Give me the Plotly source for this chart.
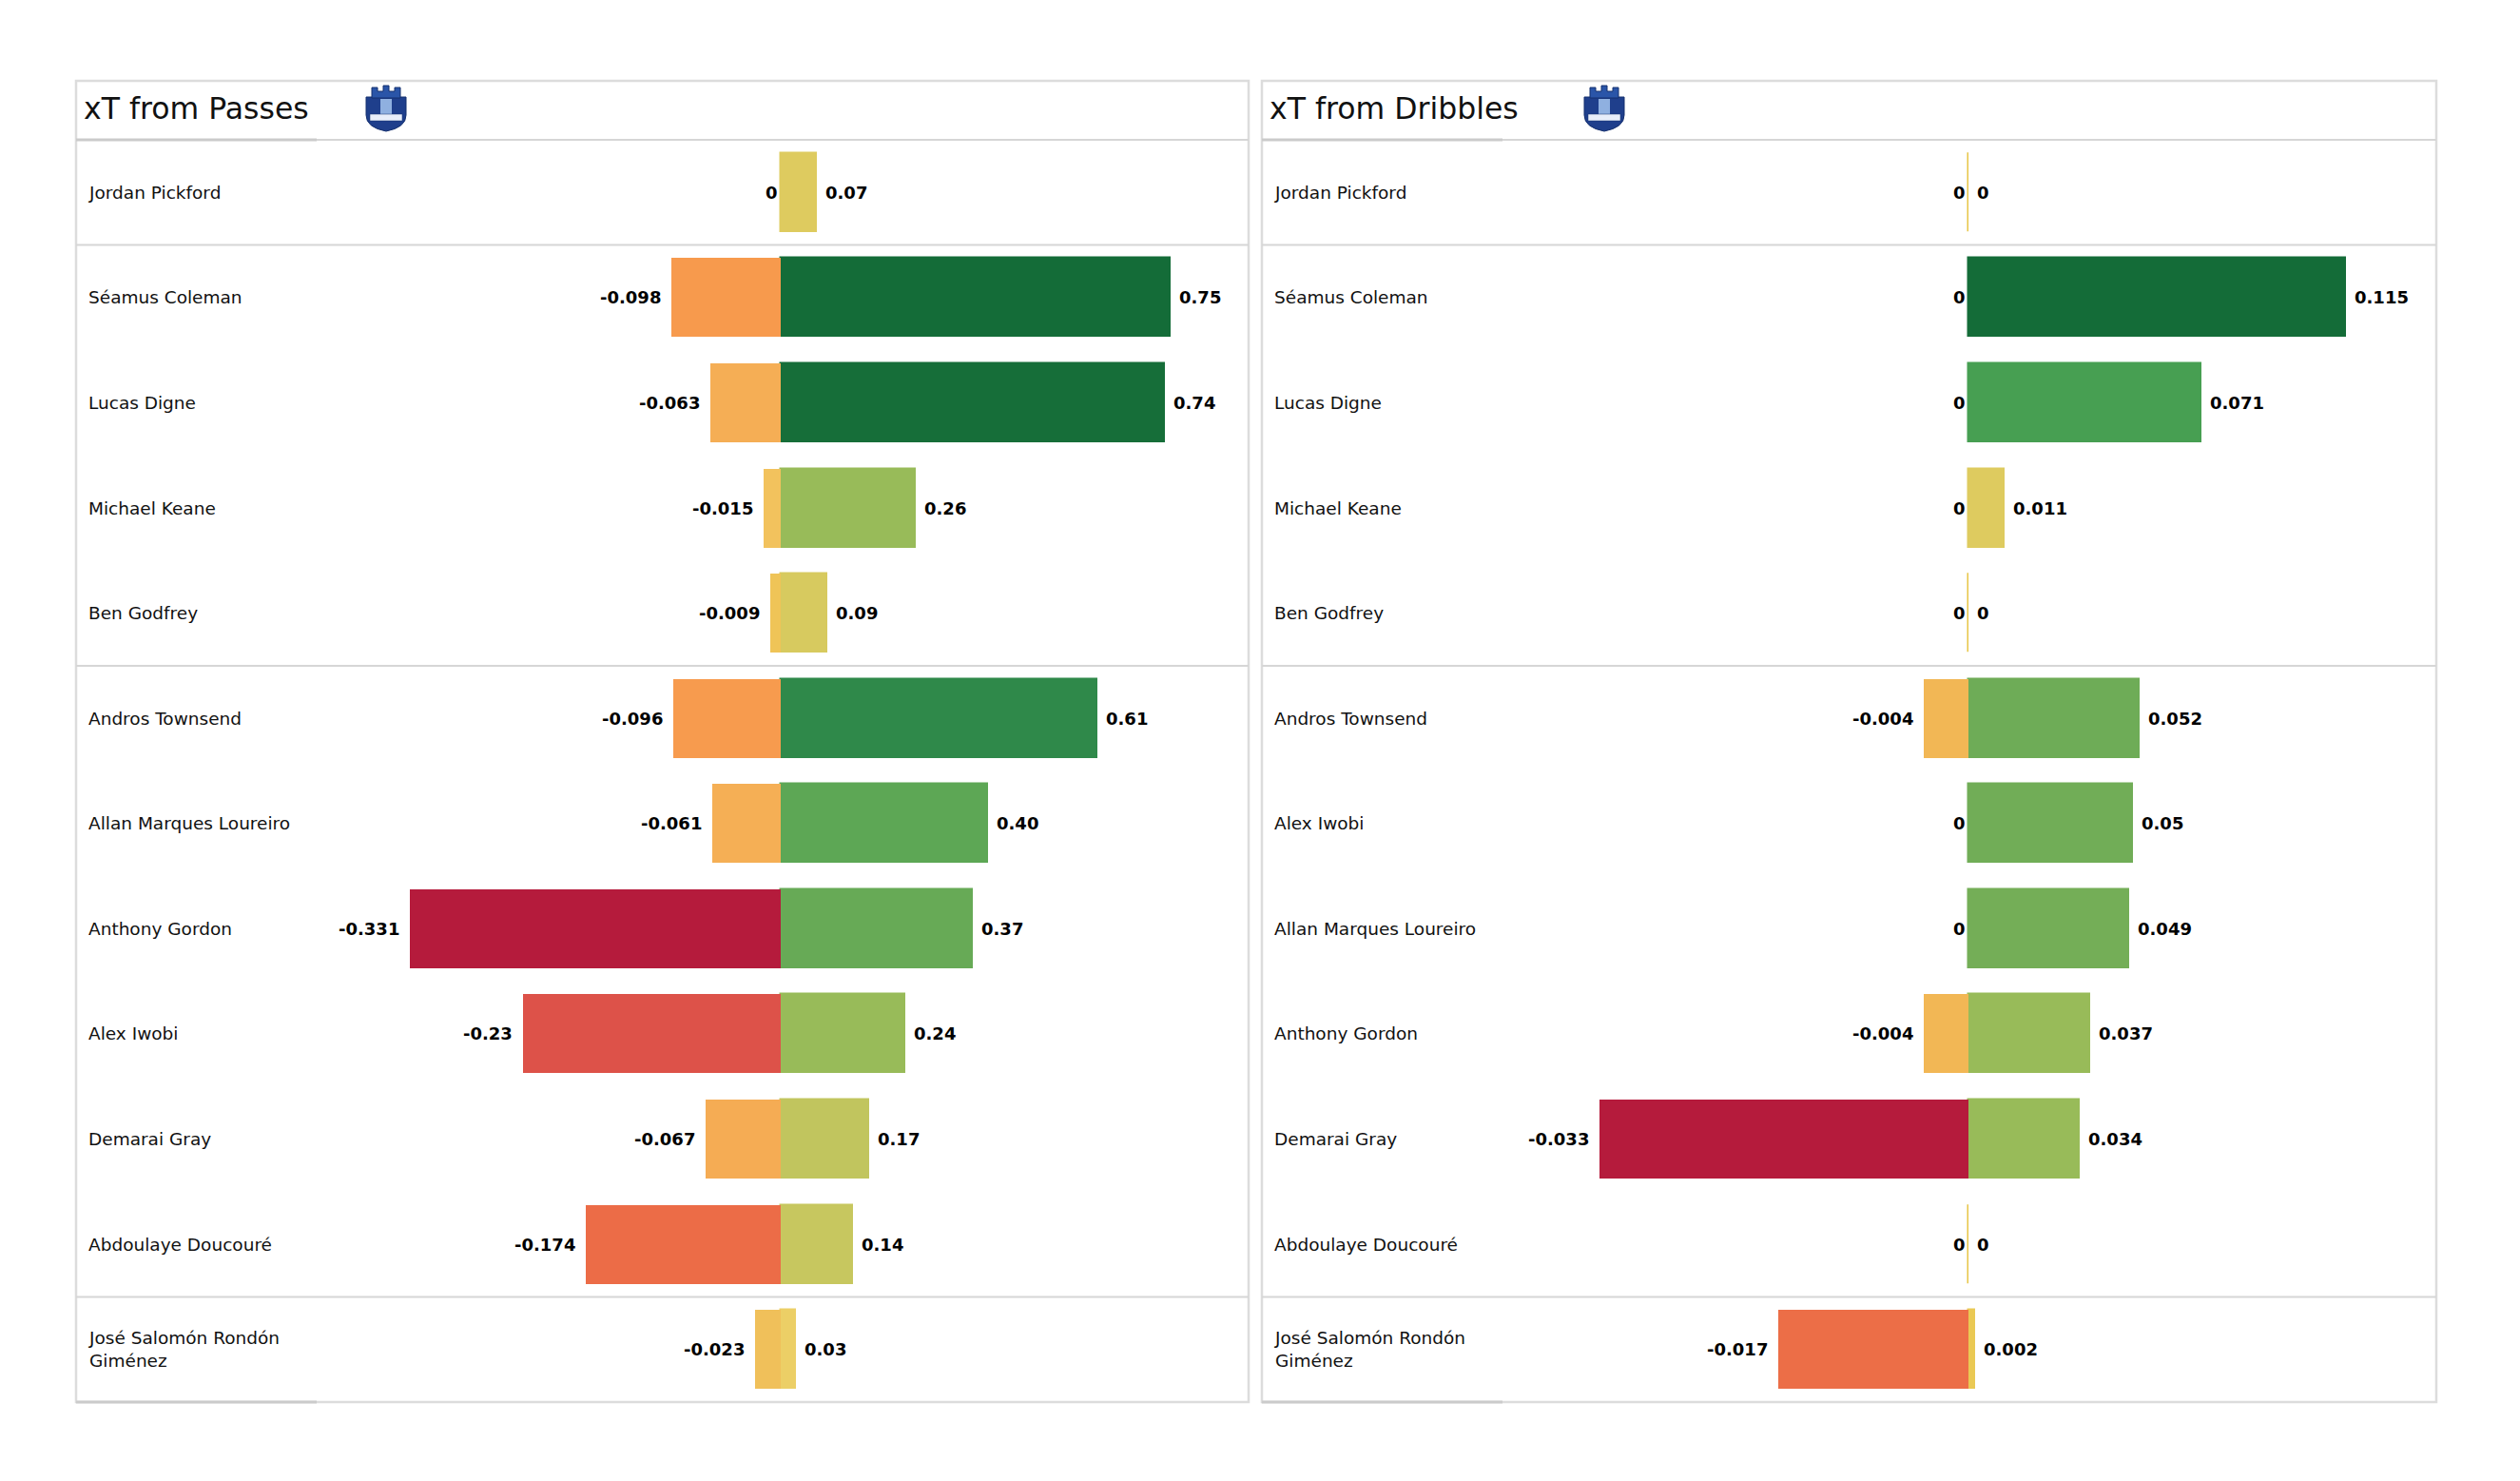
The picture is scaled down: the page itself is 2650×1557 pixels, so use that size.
import plotly.graph_objects as go
from plotly.colors import sample_colorscale

# ---------------- data ----------------
pass_players = ["Jordan Pickford", "Séamus Coleman", "Lucas Digne", "Michael Keane", "Ben Godfrey",
                "Andros Townsend", "Allan Marques Loureiro", "Anthony Gordon", "Alex Iwobi",
                "Demarai Gray", "Abdoulaye Doucouré", "José Salomón Rondón<br>Giménez"]
pass_neg = [0, -0.098, -0.063, -0.015, -0.009, -0.096, -0.061, -0.331, -0.23, -0.067, -0.174, -0.023]
pass_pos = [0.07, 0.75, 0.74, 0.26, 0.09, 0.61, 0.40, 0.37, 0.24, 0.17, 0.14, 0.03]

drib_players = ["Jordan Pickford", "Séamus Coleman", "Lucas Digne", "Michael Keane", "Ben Godfrey",
                "Andros Townsend", "Alex Iwobi", "Allan Marques Loureiro", "Anthony Gordon",
                "Demarai Gray", "Abdoulaye Doucouré", "José Salomón Rondón<br>Giménez"]
drib_neg = [0, 0, 0, 0, 0, -0.004, 0, 0, -0.004, -0.033, 0, -0.017]
drib_pos = [0, 0.115, 0.071, 0.011, 0, 0.052, 0.05, 0.049, 0.037, 0.034, 0, 0.002]

panel_titles = ["xT from Passes", "xT from Dribbles"]
group_breaks = [0.5, 4.5, 10.5]

# ---------------- layout constants ----------------
W, H = 2650, 1557
OFF = 8  # page body margin
TOP, HEAD, BOT = 85, 147, 1474
FONT = "DejaVu Sans"

COLORSCALE = [
    [0.0, "#b51b3c"], [0.155, "#de5349"], [0.24, "#ec6d47"], [0.35, "#f7994d"],
    [0.405, "#f5ae55"], [0.44, "#f2b755"], [0.465, "#f0c05a"], [0.48, "#f2c35e"],
    [0.5, "#e8c547"], [0.52, "#eccf66"], [0.545, "#dfcb5f"], [0.59, "#c8c75f"],
    [0.615, "#c1c55e"], [0.645, "#98bb59"], [0.675, "#98bb59"], [0.715, "#72ad57"],
    [0.745, "#68aa56"], [0.765, "#5ea755"], [0.81, "#469f52"], [0.905, "#2f8a4a"],
    [1.0, "#146c38"],
]

panels = [
    dict(players=pass_players, neg=pass_neg, pos=pass_pos, x0=80, x1=1313, zero=821,
         pos_px=409.5, neg_px=390, name_x=91, logo_x=406, pos_fmt="{:.2f}"),
    dict(players=drib_players, neg=drib_neg, pos=drib_pos, x0=1327, x1=2562, zero=2070,
         pos_px=397, neg_px=388, name_x=1338, logo_x=1687, pos_fmt=None),
]


def px(x):
    return (x - OFF) / W


def py(y):
    return 1 - (y - OFF) / H


def fmt(v, f=None):
    if v == 0:
        return "0"
    if f:
        return f.format(v)
    return f"{v:g}"


fig = go.Figure()
annotations = []
shapes = []
layout_axes = {}

for k, p in enumerate(panels):
    n = len(p["players"])
    ys = list(range(n))
    xa_pos = "x" if k == 0 else "x3"
    xa_neg = "x2" if k == 0 else "x4"
    ya = "y" if k == 0 else "y2"
    pmax = max(p["pos"])
    nmax = max(abs(v) for v in p["neg"])
    s_pos = p["pos_px"] / pmax
    s_neg = p["neg_px"] / nmax
    dom = [px(p["x0"]), px(p["x1"])]
    rng_pos = [(p["x0"] - p["zero"]) / s_pos, (p["x1"] - p["zero"]) / s_pos]
    rng_neg = [(p["x0"] - p["zero"]) / s_neg, (p["x1"] - p["zero"]) / s_neg]

    neg_cols = sample_colorscale(COLORSCALE, [0.5 - 0.5 * abs(v) / nmax for v in p["neg"]])
    pos_cols = sample_colorscale(COLORSCALE, [0.5 + 0.5 * v / pmax for v in p["pos"]])

    fig.add_trace(go.Bar(x=p["neg"], y=ys, orientation="h", width=0.75,
                         marker=dict(color=neg_cols, line=dict(width=0)),
                         xaxis=xa_neg, yaxis=ya, showlegend=False, hoverinfo="x"))
    fig.add_trace(go.Bar(x=p["pos"], y=ys, orientation="h", width=0.75,
                         marker=dict(color=pos_cols, line=dict(color=pos_cols, width=1.5)),
                         xaxis=xa_pos, yaxis=ya, showlegend=False, hoverinfo="x"))

    ax_common = dict(visible=False, showgrid=False, zeroline=False, fixedrange=True)
    key_pos = "xaxis" if k == 0 else "xaxis3"
    key_neg = "xaxis2" if k == 0 else "xaxis4"
    key_y = "yaxis" if k == 0 else "yaxis2"
    layout_axes[key_pos] = dict(domain=dom, range=rng_pos, anchor=ya, **ax_common)
    layout_axes[key_neg] = dict(domain=dom, range=rng_neg, anchor=ya, overlaying=xa_pos, **ax_common)
    layout_axes[key_y] = dict(domain=[py(BOT), py(HEAD)], range=[n - 0.5, -0.5], anchor=xa_pos,
                              **ax_common)

    # labels
    for i in range(n):
        annotations.append(dict(xref="paper", yref=ya, x=px(p["name_x"]), y=i, text=p["players"][i],
                                xanchor="left", yanchor="middle", align="left", showarrow=False,
                                font=dict(family=FONT, size=18.5, color="#111")))
        nv = p["neg"][i]
        annotations.append(dict(xref=xa_neg, yref=ya, x=nv, y=i, text="<b>" + fmt(nv) + "</b>",
                                xanchor="right", yanchor="middle", xshift=-9 if nv != 0 else -1,
                                showarrow=False, font=dict(family=FONT, size=18, color="#000")))
        pv = p["pos"][i]
        annotations.append(dict(xref=xa_pos, yref=ya, x=pv, y=i,
                                text="<b>" + fmt(pv, p["pos_fmt"]) + "</b>",
                                xanchor="left", yanchor="middle", xshift=7, showarrow=False,
                                font=dict(family=FONT, size=18, color="#000")))

    # panel title
    annotations.append(dict(xref="paper", yref="paper", x=px(p["x0"] + 6), y=py((TOP + HEAD) / 2 - 2),
                            text=panel_titles[k], xanchor="left", yanchor="middle", showarrow=False,
                            font=dict(family=FONT, size=31.5, color="#111")))

    # panel frame
    line_c = "#d6d6d6"
    shapes.append(dict(type="rect", xref="paper", yref="paper", x0=px(p["x0"]), x1=px(p["x1"]),
                       y0=py(BOT), y1=py(TOP), line=dict(color="#dcdcdc", width=2.5)))
    shapes.append(dict(type="line", xref="paper", yref="paper", x0=px(p["x0"]), x1=px(p["x1"]),
                       y0=py(HEAD), y1=py(HEAD), line=dict(color=line_c, width=2)))
    shapes.append(dict(type="line", xref="paper", yref="paper", x0=px(p["x0"]), x1=px(p["x0"] + 253),
                       y0=py(HEAD), y1=py(HEAD), line=dict(color="#cbcbcb", width=3)))
    shapes.append(dict(type="line", xref="paper", yref="paper", x0=px(p["x0"]), x1=px(p["x0"] + 253),
                       y0=py(BOT), y1=py(BOT), line=dict(color="#cbcbcb", width=3)))
    for gb in group_breaks:
        shapes.append(dict(type="line", xref="paper", yref=ya, x0=px(p["x0"]), x1=px(p["x1"]),
                           y0=gb, y1=gb, line=dict(color=line_c, width=2)))

    # club crest (simplified shield)
    cx, top_y = p["logo_x"], 90
    w2 = 21
    body = (f"M {px(cx - w2)} {py(top_y + 12)} L {px(cx + w2)} {py(top_y + 12)} "
            f"L {px(cx + w2)} {py(top_y + 31)} Q {px(cx + w2)} {py(top_y + 44)} {px(cx)} {py(top_y + 48)} "
            f"Q {px(cx - w2)} {py(top_y + 44)} {px(cx - w2)} {py(top_y + 31)} Z")
    shapes.append(dict(type="path", xref="paper", yref="paper", path=body,
                       fillcolor="#1f3f8c", line=dict(color="#15306e", width=1)))
    tower = (f"M {px(cx - 15)} {py(top_y + 13)} L {px(cx - 15)} {py(top_y + 2)} "
             f"L {px(cx - 9)} {py(top_y + 2)} L {px(cx - 9)} {py(top_y + 6)} "
             f"L {px(cx - 3)} {py(top_y + 6)} L {px(cx - 3)} {py(top_y + 0)} "
             f"L {px(cx + 3)} {py(top_y + 0)} L {px(cx + 3)} {py(top_y + 6)} "
             f"L {px(cx + 9)} {py(top_y + 6)} L {px(cx + 9)} {py(top_y + 2)} "
             f"L {px(cx + 15)} {py(top_y + 2)} L {px(cx + 15)} {py(top_y + 13)} Z")
    shapes.append(dict(type="path", xref="paper", yref="paper", path=tower,
                       fillcolor="#2a55a8", line=dict(color="#15306e", width=1)))
    shapes.append(dict(type="rect", xref="paper", yref="paper", x0=px(cx - 6), x1=px(cx + 6),
                       y0=py(top_y + 30), y1=py(top_y + 14), fillcolor="#8fb0e0",
                       line=dict(width=0)))
    shapes.append(dict(type="rect", xref="paper", yref="paper", x0=px(cx - 17), x1=px(cx + 17),
                       y0=py(top_y + 37), y1=py(top_y + 30), fillcolor="#e8eefa",
                       line=dict(color="#15306e", width=0.5)))

fig.update_layout(
    width=W, height=H,
    margin=dict(l=0, r=0, t=0, b=0),
    paper_bgcolor="white", plot_bgcolor="rgba(0,0,0,0)",
    barmode="overlay", bargap=0,
    annotations=annotations, shapes=shapes,
    font=dict(family=FONT),
    **layout_axes,
)

fig.write_html("out.html")
